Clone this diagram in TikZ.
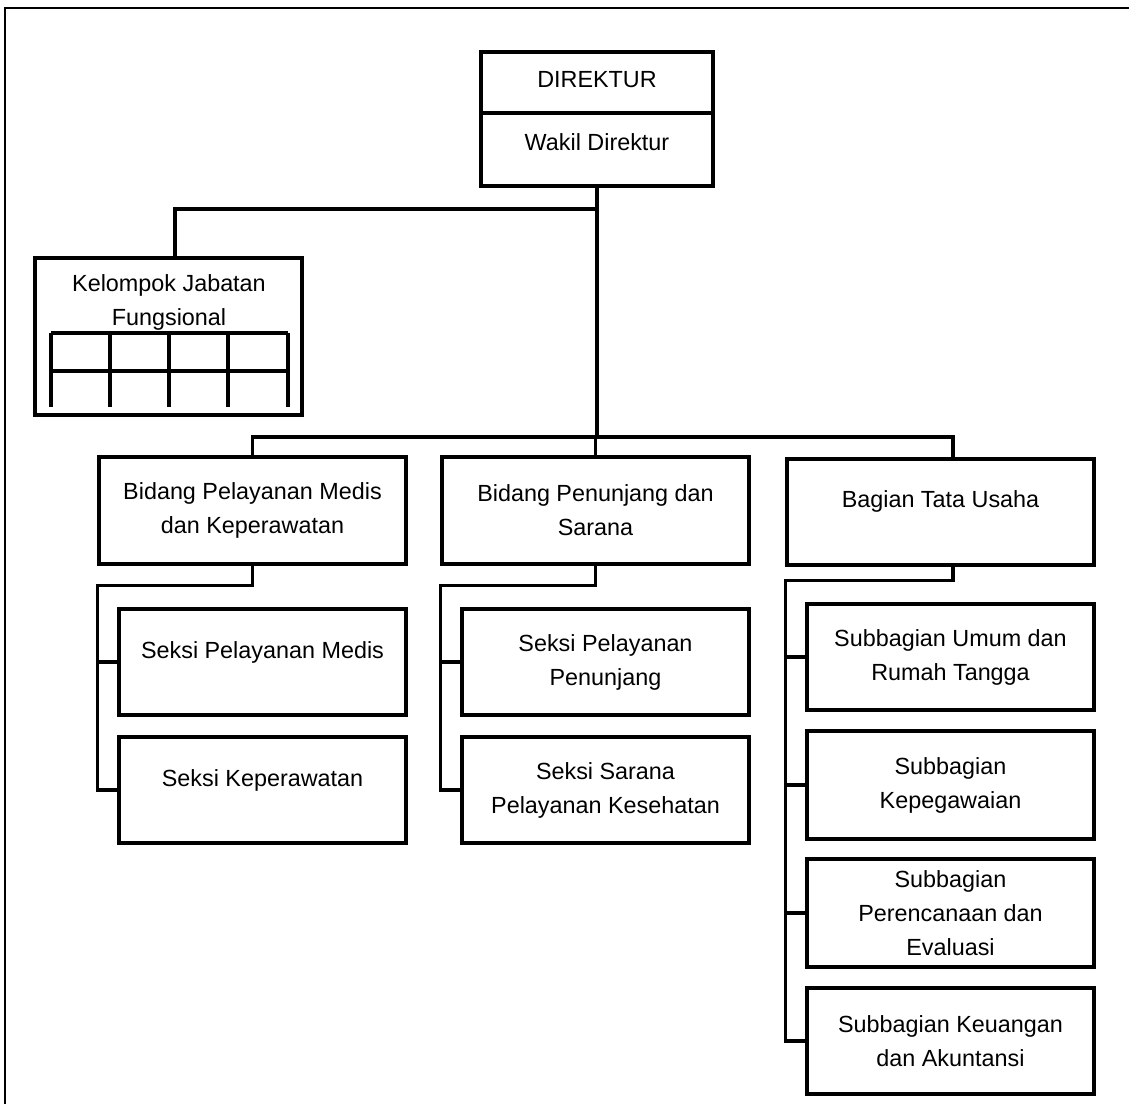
\documentclass[tikz,border=0pt]{standalone}
\usepackage{fontspec}
\setmainfont{Liberation Sans}
\tikzset{
	unit/.style={draw,line width=1.9pt,inner sep=0pt,align=center,font=\fontsize{13.3}{19.3}\selectfont},
	txt/.style={inner sep=0pt,align=center,font=\fontsize{13.3}{19.3}\selectfont},
	link/.style={line width=1.8pt}
}
\begin{document}
\begin{tikzpicture}[x=0.02cm,y=-0.02cm]
	\useasboundingbox (0,0) rectangle (1129,1103);
	\draw[line width=1.1pt] (5,1115) |- (1140,8);
	%
	\node[unit,line width=2.2pt,minimum width=4.64cm,minimum height=2.68cm] (dir) at (597,119) {};
	\coordinate (dsplit) at (597,113);
	\draw[line width=2.2pt] (dir.west |- dsplit) -- (dir.east |- dsplit);
	\node[txt] (dir-a) at (597,80) {DIREKTUR};
	\node[txt] (dir-b) at (597,142) {Wakil Direktur};
	%
	\node[unit,minimum width=5.34cm,minimum height=3.14cm] (kel) at (168.5,336.5) {};
	\node[txt] (kel-t) at (169,302) {Kelompok Jabatan\\Fungsional};
		\foreach \gx in {51,110,169,228,288}
			\draw[line width=1.9pt] (\gx,333) -- (\gx,407);
		\draw[line width=1.9pt] (51,333) -- (288,333);
		\draw[line width=1.9pt] (51,371) -- (288,371);
	%
	\node[unit,minimum width=6.14cm,minimum height=2.14cm] (bmed) at (252.5,510.5) {Bidang Pelayanan Medis\\dan Keperawatan};
	\node[unit,minimum width=6.14cm,minimum height=2.14cm] (bpen) at (595.5,510.5) {Bidang Penunjang dan\\Sarana};
	\node[unit,minimum width=6.14cm,minimum height=2.12cm] (btu) at (940.5,512) {};
	\node[txt] (btu-t) at (940.5,501) {Bagian Tata Usaha};
	%
	\node[unit,minimum width=5.74cm,minimum height=2.12cm] (smed) at (262.5,662) {};
	\node[txt] (smed-t) at (262.5,652) {Seksi Pelayanan Medis};
	\node[unit,minimum width=5.74cm,minimum height=2.12cm] (skep) at (262.5,790) {};
	\node[txt] (skep-t) at (262.5,780) {Seksi Keperawatan};
	\node[unit,minimum width=5.74cm,minimum height=2.12cm] (spen) at (605.5,662) {Seksi Pelayanan\\Penunjang};
	\node[unit,minimum width=5.74cm,minimum height=2.12cm] (ssar) at (605.5,790) {Seksi Sarana\\Pelayanan Kesehatan};
	%
	\node[unit,minimum width=5.74cm,minimum height=2.12cm] (sub1) at (950.5,657) {Subbagian Umum dan\\Rumah Tangga};
	\node[unit,minimum width=5.74cm,minimum height=2.16cm] (sub2) at (950.5,785) {Subbagian\\Kepegawaian};
	\node[unit,minimum width=5.74cm,minimum height=2.16cm] (sub3) at (950.5,913) {Subbagian\\Perencanaan dan\\Evaluasi};
	\node[unit,minimum width=5.74cm,minimum height=2.12cm] (sub4) at (950.5,1041) {Subbagian Keuangan\\dan Akuntansi};
	%
	\coordinate (kj) at (175,209);
	\coordinate (bus) at (597,437);
	\coordinate (tj) at (953,437);
	\draw[link] (dir.south) -- (bus);
	\draw[link] (kj |- kel.north) |- (kj -| dir.south);
	\draw[link] (bmed.north) |- (bus) -| (tj |- btu.north);
	\draw[link] (bpen.north) -- (bpen.north |- bus);
	%
	\draw[link] (bmed.south) -- ++(0,20) -| (bmed.west |- skep.west) -- (skep.west);
	\draw[link] (bmed.west |- smed.west) -- (smed.west);
	\draw[link] (bpen.south) -- ++(0,20) -| (bpen.west |- ssar.west) -- (ssar.west);
	\draw[link] (bpen.west |- spen.west) -- (spen.west);
	\draw[link] (tj |- btu.south) -- ++(0,14) -| (btu.west |- sub4.west) -- (sub4.west);
	\foreach \s in {sub1,sub2,sub3}
		\draw[link] (btu.west |- \s.west) -- (\s.west);
\end{tikzpicture}
\end{document}
